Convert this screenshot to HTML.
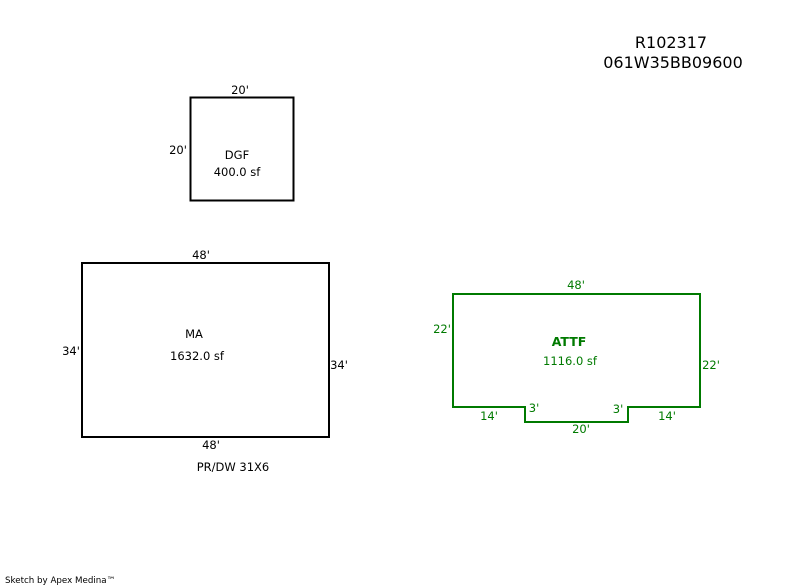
<!DOCTYPE html>
<html><head><meta charset="utf-8"><style>
html,body{margin:0;padding:0;background:#fff;}
svg{display:block;}
text{font-family:"DejaVu Sans","Liberation Sans",sans-serif;font-size:11.5px;}
</style></head><body>
<svg width="800" height="587" viewBox="0 0 800 587" xmlns="http://www.w3.org/2000/svg">
<text x="671" y="48" text-anchor="middle" style="font-size:16px">R102317</text>
<text x="673" y="68" text-anchor="middle" style="font-size:16px">061W35BB09600</text>

<rect x="190.5" y="97.5" width="103" height="103" fill="none" stroke="#000" stroke-width="2"/>
<text x="240" y="94" text-anchor="middle">20'</text>
<text x="178" y="154" text-anchor="middle">20'</text>
<text x="237" y="159" text-anchor="middle">DGF</text>
<text x="237" y="176" text-anchor="middle">400.0 sf</text>

<rect x="82" y="263" width="247" height="174" fill="none" stroke="#000" stroke-width="2"/>
<text x="201" y="259" text-anchor="middle">48'</text>
<text x="71" y="355" text-anchor="middle">34'</text>
<text x="339" y="369" text-anchor="middle">34'</text>
<text x="194" y="338" text-anchor="middle">MA</text>
<text x="197" y="360" text-anchor="middle">1632.0 sf</text>
<text x="211" y="449" text-anchor="middle">48'</text>
<text x="233" y="471" text-anchor="middle">PR/DW 31X6</text>

<g fill="#007a00">
<polygon points="453,294 700,294 700,407 628,407 628,422 525,422 525,407 453,407" fill="none" stroke="#007a00" stroke-width="2"/>
<text x="576" y="289" text-anchor="middle">48'</text>
<text x="442" y="333" text-anchor="middle">22'</text>
<text x="711" y="369" text-anchor="middle">22'</text>
<text x="569" y="346" text-anchor="middle" style="font-weight:bold;font-size:12.5px">ATTF</text>
<text x="570" y="365" text-anchor="middle">1116.0 sf</text>
<text x="489" y="420" text-anchor="middle">14'</text>
<text x="534" y="412" text-anchor="middle">3'</text>
<text x="618" y="413" text-anchor="middle">3'</text>
<text x="581" y="433" text-anchor="middle">20'</text>
<text x="667" y="420" text-anchor="middle">14'</text>
</g>
<text x="5" y="583" style="font-size:8.7px">Sketch by Apex Medina™</text>
</svg>
</body></html>
